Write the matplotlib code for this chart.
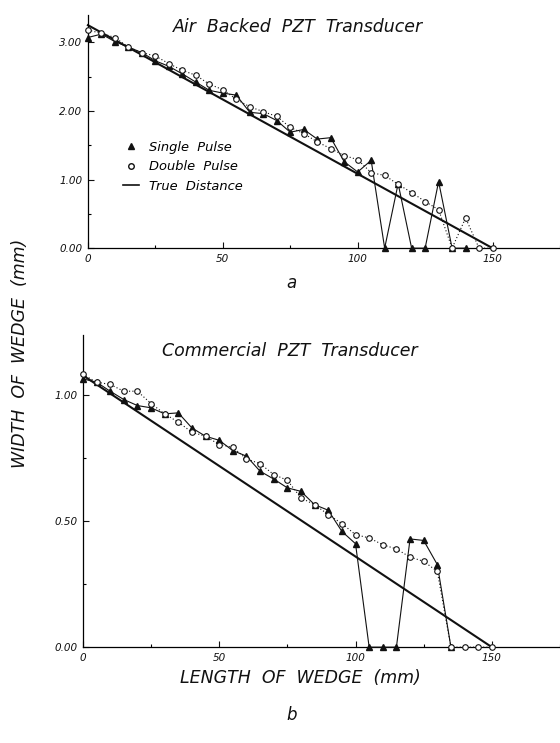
import numpy as np
import matplotlib
matplotlib.use('Agg')
import matplotlib.pyplot as plt
from matplotlib.lines import Line2D
from matplotlib.ticker import MultipleLocator

# %% data
x_pos = list(range(0, 155, 5))

# panel a: air backed PZT transducer
a_single_x = list(range(0, 145, 5))
a_single_y = [3.07, 3.12, 3.01, 2.93, 2.85, 2.73, 2.65, 2.54, 2.42, 2.30,
              2.26, 2.23, 1.98, 1.96, 1.86, 1.69, 1.73, 1.59, 1.61, 1.26,
              1.11, 1.28, 0.00, 0.94, 0.00, 0.00, 0.97, 0.00, 0.00]
a_double_y = [3.18, 3.13, 3.07, 2.93, 2.85, 2.80, 2.69, 2.59, 2.52, 2.39,
              2.31, 2.17, 2.06, 1.99, 1.92, 1.76, 1.67, 1.55, 1.45, 1.35,
              1.29, 1.10, 1.06, 0.93, 0.81, 0.68, 0.56, 0.00, 0.44, 0.00, 0.00]
a_true_x = [0, 150]
a_true_y = [3.25, 0.0]

# panel b: commercial PZT transducer
b_single_x = list(range(0, 140, 5))
b_single_y = [1.066, 1.053, 1.017, 0.984, 0.960, 0.951, 0.927, 0.931, 0.871, 0.838,
              0.822, 0.781, 0.759, 0.699, 0.668, 0.633, 0.619, 0.566, 0.544, 0.460,
              0.411, 0.000, 0.000, 0.000, 0.430, 0.424, 0.328, 0.000]
b_double_y = [1.084, 1.053, 1.044, 1.017, 1.017, 0.968, 0.927, 0.894, 0.854, 0.838,
              0.805, 0.794, 0.748, 0.729, 0.686, 0.663, 0.593, 0.566, 0.527, 0.491,
              0.447, 0.434, 0.407, 0.390, 0.358, 0.341, 0.301, 0.000, 0.000, 0.000, 0.000]
b_true_x = [0, 150]
b_true_y = [1.08, 0.0]

x_ticks = [0, 50, 100, 150]
x_tick_labels = ['0', '50', '100', '150']
a_y_ticks = [0, 1, 2, 3]
a_y_tick_labels = ['0.00', '1.00', '2.00', '3.00']
b_y_ticks = [0, 0.5, 1.0]
b_y_tick_labels = ['0.00', '0.50', '1.00']

ink = '#111111'
tdir = 'in'
plt.rcParams['font.family'] = 'DejaVu Sans'
plt.rcParams['font.style'] = 'italic'
plt.rcParams['xtick.direction'] = tdir
plt.rcParams['ytick.direction'] = tdir
plt.rcParams['xtick.major.size'] = 4
plt.rcParams['ytick.major.size'] = 4
plt.rcParams['xtick.minor.size'] = 2.5
plt.rcParams['ytick.minor.size'] = 2.5
plt.rcParams['axes.linewidth'] = 0.9


# %%
def draw_panel(ax, single_x, single_y, double_y, true_x, true_y, y_ticks, y_tick_labels,
               ymax, minor_y, title, title_x):
    ax.plot(true_x, true_y, color=ink, lw=1.5, zorder=2, clip_on=False)
    ax.plot(single_x, single_y, color=ink, lw=0.8, marker='^', ms=4.5,
            mfc=ink, mec=ink, zorder=3, clip_on=False)
    ax.plot(x_pos, double_y, color=ink, lw=0.8, ls=(0, (1, 2)), marker='o', ms=4,
            mfc='white', mec=ink, mew=0.8, zorder=4, clip_on=False)

    ax.set_xlim(0, 175)
    ax.set_ylim(0, ymax)
    ax.set_xticks(x_ticks)
    ax.set_xticklabels(x_tick_labels)
    ax.set_yticks(y_ticks)
    ax.set_yticklabels(y_tick_labels)
    ax.xaxis.set_minor_locator(MultipleLocator(25))
    ax.yaxis.set_minor_locator(MultipleLocator(minor_y))
    ax.tick_params(labelsize=7.5, colors=ink, pad=4)
    ax.tick_params(which='both', width=0.8)
    for side in ['top', 'right']:
        ax.spines[side].set_visible(False)
    ax.text(title_x, 0.95, title, transform=ax.transAxes, fontsize=12.5,
            ha='center', va='center', color=ink)


fig = plt.figure(figsize=(5.6, 7.43), dpi=100)

ax_a = fig.add_axes([0.157, 0.666, 0.843, 0.314])
draw_panel(ax_a, a_single_x, a_single_y, a_double_y, a_true_x, a_true_y,
           a_y_ticks, a_y_tick_labels, 3.4, 0.5, 'Air  Backed  PZT  Transducer', 0.445)

handles = [Line2D([], [], ls='none', marker='^', ms=4.5, color=ink),
           Line2D([], [], ls='none', marker='o', ms=4, mfc='white', mec=ink),
           Line2D([], [], color=ink, lw=1.2)]
ax_a.legend(handles, ['Single  Pulse', 'Double  Pulse', 'True  Distance'],
            loc='upper left', bbox_to_anchor=(0.05, 0.51), frameon=False,
            fontsize=9.4, handlelength=1.2, labelspacing=0.5)

ax_b = fig.add_axes([0.148, 0.129, 0.852, 0.42])
draw_panel(ax_b, b_single_x, b_single_y, b_double_y, b_true_x, b_true_y,
           b_y_ticks, b_y_tick_labels, 1.24, 0.25, 'Commercial  PZT  Transducer', 0.434)

fig.text(0.52, 0.619, 'a', fontsize=12, ha='center', va='center', color=ink)
fig.text(0.52, 0.038, 'b', fontsize=12, ha='center', va='center', color=ink)
fig.text(0.536, 0.087, 'LENGTH  OF  WEDGE  (mm)', fontsize=12.5,
         ha='center', va='center', color=ink)
fig.text(0.036, 0.525, 'WIDTH  OF  WEDGE  (mm)', fontsize=12.5, rotation=90,
         ha='center', va='center', color=ink)

fig.savefig('out.png', dpi=100)
